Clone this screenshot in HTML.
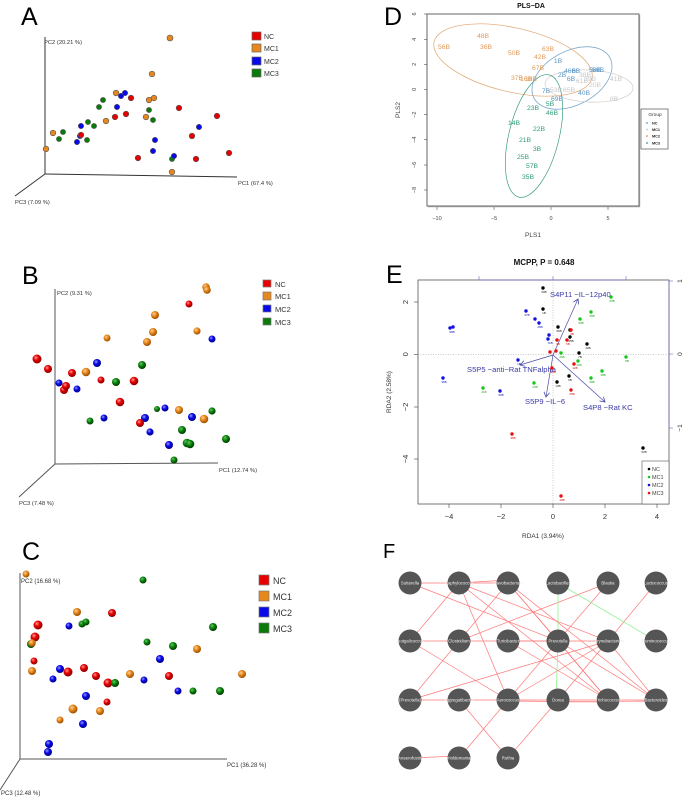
<!DOCTYPE html>
<html><head><meta charset="utf-8"><style>
html,body{margin:0;padding:0;background:#fff;}
svg{display:block;font-family:"Liberation Sans",Arial,sans-serif;}
</style></head><body>
<svg width="685" height="797" viewBox="0 0 685 797" xmlns="http://www.w3.org/2000/svg">
<defs>
<radialGradient id="gr" cx="38%" cy="35%" r="65%"><stop offset="0" stop-color="#ff9a9a"/><stop offset="0.45" stop-color="#e80000"/><stop offset="1" stop-color="#8a0000"/></radialGradient>
<radialGradient id="go" cx="38%" cy="35%" r="65%"><stop offset="0" stop-color="#ffd09a"/><stop offset="0.45" stop-color="#e8881c"/><stop offset="1" stop-color="#9a5000"/></radialGradient>
<radialGradient id="gb" cx="38%" cy="35%" r="65%"><stop offset="0" stop-color="#9a9aff"/><stop offset="0.45" stop-color="#0808e8"/><stop offset="1" stop-color="#00008a"/></radialGradient>
<radialGradient id="gg" cx="38%" cy="35%" r="65%"><stop offset="0" stop-color="#70c070"/><stop offset="0.45" stop-color="#0a880a"/><stop offset="1" stop-color="#003a00"/></radialGradient>
<marker id="ah" markerWidth="6" markerHeight="6" refX="5" refY="3" orient="auto" markerUnits="userSpaceOnUse"><path d="M0,0 L5,3 L0,6" fill="none" stroke="#4a4aa8" stroke-width="0.8"/></marker>
</defs>

<!-- ================= PANEL A ================= -->
<text x="21" y="25" font-size="25">A</text>
<g stroke="#333" stroke-width="1" fill="none">
<line x1="45" y1="37" x2="45" y2="174"/>
<line x1="45" y1="174" x2="237" y2="177"/>
<line x1="45" y1="174" x2="15" y2="196"/>
</g>
<g font-size="5.8" fill="#333">
<text x="44" y="44">PC2 (20.21 %)</text>
<text x="238" y="185">PC1 (67.4 %)</text>
<text x="15" y="204">PC3 (7.09 %)</text>
</g>
<g stroke="#666" stroke-width="0.7">
<rect x="252" y="32" width="9" height="8" fill="#e80000"/>
<rect x="252" y="44" width="9" height="8" fill="#e8881c"/>
<rect x="252" y="57" width="9" height="8" fill="#0808e8"/>
<rect x="252" y="69" width="9" height="8" fill="#0a7a0a"/>
</g>
<g font-size="7" fill="#333">
<text x="264" y="39">NC</text><text x="264" y="51">MC1</text><text x="264" y="64">MC2</text><text x="264" y="76">MC3</text>
</g>
<g stroke="#555" stroke-width="0.6">
<g fill="#e8881c">
<circle cx="170" cy="38" r="3"/><circle cx="152" cy="74" r="2.8"/><circle cx="116" cy="93" r="2.8"/>
<circle cx="149" cy="100" r="2.8"/><circle cx="154" cy="98" r="2.8"/><circle cx="146" cy="117" r="2.8"/>
<circle cx="106" cy="121" r="2.8"/><circle cx="53" cy="133" r="2.8"/><circle cx="46" cy="149" r="2.8"/>
<circle cx="172" cy="172" r="2.8"/>
</g>
<g fill="#0a7a0a">
<circle cx="103" cy="100" r="2.6"/><circle cx="99" cy="107" r="2.6"/><circle cx="149" cy="110" r="2.6"/>
<circle cx="153" cy="120" r="2.6"/><circle cx="88" cy="122" r="2.6"/><circle cx="94" cy="126" r="2.6"/>
<circle cx="63" cy="132" r="2.6"/><circle cx="59" cy="139" r="2.6"/><circle cx="87" cy="140" r="2.6"/>
<circle cx="172" cy="159" r="2.6"/>
</g>
<g fill="#0808e8">
<circle cx="121" cy="96" r="2.7"/><circle cx="125" cy="93" r="2.7"/><circle cx="117" cy="107" r="2.7"/>
<circle cx="81" cy="126" r="2.7"/><circle cx="199" cy="127" r="2.7"/><circle cx="80" cy="136" r="2.7"/>
<circle cx="77" cy="142" r="2.7"/><circle cx="155" cy="140" r="2.7"/><circle cx="153" cy="151" r="2.7"/>
<circle cx="174" cy="156" r="2.7"/>
</g>
<g fill="#e80000">
<circle cx="131" cy="98" r="2.8"/><circle cx="179" cy="108" r="2.8"/><circle cx="126" cy="114" r="2.8"/>
<circle cx="115" cy="117" r="2.8"/><circle cx="217" cy="116" r="2.8"/><circle cx="81" cy="135" r="2.8"/>
<circle cx="192" cy="136" r="2.8"/><circle cx="138" cy="158" r="2.8"/><circle cx="196" cy="159" r="2.8"/>
<circle cx="229" cy="153" r="2.8"/>
</g>
</g>

<!-- ================= PANEL B ================= -->
<text x="22" y="284" font-size="25">B</text>
<g stroke="#555" stroke-width="1" fill="none">
<line x1="55" y1="289" x2="55" y2="464"/>
<line x1="55" y1="464" x2="218" y2="463"/>
<line x1="55" y1="464" x2="19" y2="497"/>
</g>
<g font-size="5.8" fill="#333">
<text x="57" y="295">PC2 (9.31 %)</text>
<text x="219" y="472">PC1 (12.74 %)</text>
<text x="19" y="505">PC3 (7.48 %)</text>
</g>
<g stroke="#777" stroke-width="0.7">
<rect x="263" y="280" width="8" height="7" fill="#e80000"/>
<rect x="263" y="292" width="8" height="8" fill="#e8881c"/>
<rect x="263" y="305" width="8" height="7" fill="#0808e8"/>
<rect x="263" y="318" width="8" height="7" fill="#0a7a0a"/>
</g>
<g font-size="7.5" fill="#333">
<text x="275" y="287">NC</text><text x="275" y="299">MC1</text><text x="275" y="312">MC2</text><text x="275" y="325">MC3</text>
</g>
<g>
<circle cx="206" cy="287" r="3.8" fill="url(#go)"/><circle cx="207" cy="290" r="3.8" fill="url(#go)"/>
<circle cx="189" cy="304" r="3.5" fill="url(#gr)"/>
<circle cx="155" cy="315" r="4" fill="url(#go)"/>
<circle cx="153" cy="332" r="4" fill="url(#go)"/>
<circle cx="197" cy="331" r="3.6" fill="url(#go)"/>
<circle cx="212" cy="339" r="3.5" fill="url(#gb)"/>
<circle cx="107" cy="338" r="3.5" fill="url(#go)"/>
<circle cx="147" cy="342" r="4" fill="url(#go)"/>
<circle cx="37" cy="359" r="4.5" fill="url(#gr)"/>
<circle cx="48" cy="369" r="4" fill="url(#gr)"/>
<circle cx="97" cy="363" r="4" fill="url(#gb)"/>
<circle cx="142" cy="365" r="4" fill="url(#gg)"/>
<circle cx="72" cy="373" r="4" fill="url(#gr)"/>
<circle cx="86" cy="372" r="4.3" fill="url(#go)"/>
<circle cx="101" cy="380" r="3.5" fill="url(#gr)"/>
<circle cx="116" cy="382" r="4" fill="url(#gg)"/>
<circle cx="134" cy="381" r="4.3" fill="url(#gr)"/>
<circle cx="59" cy="383" r="3.5" fill="url(#gb)"/>
<circle cx="64" cy="390" r="4" fill="url(#gr)"/>
<circle cx="66" cy="386" r="4" fill="url(#gr)"/>
<circle cx="77" cy="389" r="3.5" fill="url(#gb)"/>
<circle cx="120" cy="402" r="4.3" fill="url(#gr)"/>
<circle cx="157" cy="409" r="3" fill="url(#gg)"/>
<circle cx="165" cy="408" r="3.5" fill="url(#gb)"/>
<circle cx="179" cy="410" r="4" fill="url(#go)"/>
<circle cx="212" cy="411" r="3.6" fill="url(#gg)"/>
<circle cx="192" cy="417" r="4" fill="url(#gb)"/>
<circle cx="204" cy="419" r="4.3" fill="url(#go)"/>
<circle cx="145" cy="418" r="4" fill="url(#gb)"/>
<circle cx="90" cy="421" r="3.5" fill="url(#gg)"/>
<circle cx="104" cy="418" r="3.5" fill="url(#gb)"/>
<circle cx="140" cy="423" r="4" fill="url(#gr)"/>
<circle cx="150" cy="432" r="3.6" fill="url(#gb)"/>
<circle cx="182" cy="430" r="4" fill="url(#gg)"/>
<circle cx="187" cy="443" r="4.3" fill="url(#gg)"/><circle cx="190" cy="444" r="4.3" fill="url(#gg)"/>
<circle cx="169" cy="445" r="4" fill="url(#gb)"/>
<circle cx="226" cy="439" r="4" fill="url(#gg)"/>
<circle cx="174" cy="460" r="3.5" fill="url(#gg)"/>
</g>

<!-- ================= PANEL C ================= -->
<text x="22" y="560" font-size="25">C</text>
<g stroke="#555" stroke-width="1" fill="none">
<line x1="20" y1="573" x2="20" y2="759"/>
<line x1="20" y1="759" x2="227" y2="759"/>
<line x1="20" y1="759" x2="0" y2="790"/>
</g>
<g font-size="6" fill="#333">
<text x="21" y="583">PC2 (16.68 %)</text>
<text x="227" y="767">PC1 (36.28 %)</text>
<text x="1" y="795">PC3 (12.48 %)</text>
</g>
<g stroke="#777" stroke-width="0.7">
<rect x="259" y="575" width="10" height="10" fill="#e80000"/>
<rect x="259" y="591" width="10" height="10" fill="#e8881c"/>
<rect x="259" y="607" width="10" height="10" fill="#0808e8"/>
<rect x="259" y="623" width="10" height="10" fill="#0a7a0a"/>
</g>
<g font-size="9" fill="#333">
<text x="273" y="584">NC</text><text x="273" y="600">MC1</text><text x="273" y="616">MC2</text><text x="273" y="632">MC3</text>
</g>
<g>
<circle cx="26" cy="574" r="3.5" fill="url(#go)"/>
<circle cx="143" cy="580" r="3.5" fill="url(#gg)"/>
<circle cx="77" cy="612" r="4" fill="url(#go)"/>
<circle cx="112" cy="613" r="4" fill="url(#gr)"/>
<circle cx="82" cy="624" r="3.5" fill="url(#gg)"/><circle cx="86" cy="622" r="3.5" fill="url(#gg)"/>
<circle cx="69" cy="626" r="3.5" fill="url(#gb)"/>
<circle cx="38" cy="625" r="4.5" fill="url(#gr)"/>
<circle cx="213" cy="627" r="4" fill="url(#gg)"/>
<circle cx="35" cy="637" r="4.5" fill="url(#gr)"/>
<circle cx="31" cy="644" r="4" fill="url(#gg)"/><circle cx="32" cy="643" r="3.8" fill="url(#go)"/>
<circle cx="147" cy="642" r="3.5" fill="url(#gg)"/>
<circle cx="173" cy="646" r="4" fill="url(#gg)"/>
<circle cx="197" cy="649" r="4" fill="url(#go)"/>
<circle cx="160" cy="659" r="4" fill="url(#gb)"/>
<circle cx="34" cy="661" r="3.5" fill="url(#gr)"/>
<circle cx="32" cy="671" r="4" fill="url(#go)"/>
<circle cx="60" cy="669" r="4" fill="url(#gb)"/>
<circle cx="68" cy="672" r="4.5" fill="url(#gr)"/>
<circle cx="84" cy="668" r="4" fill="url(#gr)"/>
<circle cx="53" cy="679" r="3.5" fill="url(#gb)"/>
<circle cx="96" cy="676" r="4" fill="url(#gr)"/>
<circle cx="130" cy="674" r="4" fill="url(#go)"/>
<circle cx="144" cy="680" r="3.5" fill="url(#gb)"/>
<circle cx="169" cy="676" r="4" fill="url(#gr)"/>
<circle cx="242" cy="674" r="4" fill="url(#go)"/>
<circle cx="108" cy="683" r="4.5" fill="url(#gr)"/>
<circle cx="115" cy="683" r="4" fill="url(#gg)"/>
<circle cx="178" cy="691" r="3.5" fill="url(#gb)"/>
<circle cx="193" cy="691" r="3.5" fill="url(#gg)"/>
<circle cx="220" cy="691" r="4" fill="url(#gg)"/>
<circle cx="86" cy="696" r="4" fill="url(#gb)"/>
<circle cx="107" cy="702" r="3.5" fill="url(#gr)"/>
<circle cx="73" cy="709" r="4.5" fill="url(#go)"/>
<circle cx="100" cy="711" r="4" fill="url(#go)"/>
<circle cx="60" cy="720" r="3.5" fill="url(#go)"/>
<circle cx="83" cy="724" r="4" fill="url(#gb)"/>
<circle cx="49" cy="744" r="4" fill="url(#gb)"/>
<circle cx="48" cy="752" r="4" fill="url(#gb)"/>
</g>

<!-- ================= PANEL D ================= -->
<text x="531" y="8" font-size="7" font-weight="bold" text-anchor="middle" fill="#111">PLS−DA</text>
<text x="384" y="25" font-size="25">D</text>
<rect x="427" y="14" width="212" height="192" fill="none" stroke="#666" stroke-width="1"/>
<line x1="639.8" y1="15" x2="639.8" y2="207" stroke="#aaa" stroke-width="0.8"/>
<line x1="428" y1="206.8" x2="640" y2="206.8" stroke="#aaa" stroke-width="0.8"/>
<g stroke="#555" stroke-width="0.6">
<line x1="437" y1="207" x2="437" y2="210"/><line x1="494" y1="207" x2="494" y2="210"/>
<line x1="551" y1="207" x2="551" y2="210"/><line x1="608" y1="207" x2="608" y2="210"/>
<line x1="427" y1="14" x2="424" y2="14"/><line x1="427" y1="39.3" x2="424" y2="39.3"/>
<line x1="427" y1="64.3" x2="424" y2="64.3"/><line x1="427" y1="89.3" x2="424" y2="89.3"/>
<line x1="427" y1="114.7" x2="424" y2="114.7"/><line x1="427" y1="139.7" x2="424" y2="139.7"/>
<line x1="427" y1="165" x2="424" y2="165"/><line x1="427" y1="190" x2="424" y2="190"/>
</g>
<g font-size="5.5" fill="#444" text-anchor="middle">
<text x="437" y="220">−10</text><text x="494" y="220">−5</text><text x="551" y="220">0</text><text x="608" y="220">5</text>
<text transform="translate(416,14) rotate(-90)">6</text>
<text transform="translate(416,39.3) rotate(-90)">4</text>
<text transform="translate(416,64.3) rotate(-90)">2</text>
<text transform="translate(416,89.3) rotate(-90)">0</text>
<text transform="translate(416,114.7) rotate(-90)">−2</text>
<text transform="translate(416,139.7) rotate(-90)">−4</text>
<text transform="translate(416,165) rotate(-90)">−6</text>
<text transform="translate(416,190) rotate(-90)">−8</text>
</g>
<text x="533" y="237" font-size="6.5" fill="#444" text-anchor="middle">PLS1</text>
<text transform="translate(400,110) rotate(-90)" font-size="6.5" fill="#444" text-anchor="middle">PLS2</text>
<g fill="none" stroke-width="0.7">
<ellipse cx="513" cy="60" rx="81" ry="32" transform="rotate(13 513 60)" stroke="#e0a46a"/>
<ellipse cx="572" cy="78" rx="43" ry="27" transform="rotate(-28 572 78)" stroke="#6a9ec4"/>
<ellipse cx="589" cy="86" rx="44" ry="16" transform="rotate(3 589 86)" stroke="#cfcfcf"/>
<ellipse cx="534" cy="136" rx="25" ry="63" transform="rotate(14 534 136)" stroke="#3a9e80"/>
</g>
<g font-size="6.8" text-anchor="middle" dominant-baseline="middle">
<g fill="#e09a58">
<text x="483" y="36">48B</text><text x="444" y="47">56B</text><text x="486" y="47">36B</text>
<text x="514" y="53">50B</text><text x="548" y="49">63B</text><text x="540" y="57">42B</text>
<text x="538" y="68">67B</text><text x="517" y="78">37B</text><text x="526" y="79">16B</text><text x="531" y="79">18B</text>
</g>
<g fill="#c8c8c8">
<text x="616" y="79">41B</text><text x="585" y="75">38B</text><text x="582" y="81">61B</text>
<text x="595" y="85">20B</text><text x="614" y="99">8B</text><text x="556" y="90">53B</text>
<text x="569" y="90">65B</text><text x="590" y="79">39B</text>
</g>
<g fill="#5a96c6">
<text x="558" y="61">1B</text><text x="570" y="71">46B</text><text x="576" y="71">6B</text>
<text x="562" y="75">2B</text><text x="571" y="79">6B</text><text x="546" y="91">7B</text>
<text x="557" y="99">69B</text><text x="584" y="93">40B</text><text x="595" y="70">58B</text><text x="598" y="70">59B</text>
</g>
<g fill="#2e9e7c">
<text x="533" y="108">23B</text><text x="550" y="104">5B</text><text x="552" y="113">46B</text>
<text x="514" y="123">14B</text><text x="539" y="129">22B</text><text x="525" y="140">21B</text>
<text x="537" y="149">3B</text><text x="523" y="157">25B</text><text x="532" y="166">57B</text>
<text x="528" y="177">35B</text>
</g>
</g>
<rect x="641" y="109" width="27" height="40" fill="#fff" stroke="#333" stroke-width="0.6"/>
<text x="655" y="116" font-size="4.8" fill="#333" text-anchor="middle">Group</text>
<g font-size="3.8" font-weight="bold" fill="#222">
<circle cx="647" cy="123" r="0.9" fill="#5a96c6"/><text x="652" y="124.5">NC</text>
<circle cx="647" cy="129.5" r="0.9" fill="#c8c8c8"/><text x="652" y="131">MC1</text>
<circle cx="647" cy="136" r="0.9" fill="#e8883c"/><text x="652" y="137.5">MC2</text>
<circle cx="647" cy="143" r="0.9" fill="#2e9e7c"/><text x="652" y="144.5">MC3</text>
</g>

<!-- ================= PANEL E ================= -->
<text x="544" y="265" font-size="8" font-weight="bold" text-anchor="middle" fill="#111">MCPP, P = 0.648</text>
<text x="386" y="283" font-size="25">E</text>
<rect x="418" y="280" width="251" height="224" fill="none" stroke="#555" stroke-width="0.8"/>
<line x1="479" y1="280" x2="626" y2="280" stroke="#6a6ab8" stroke-width="0.8"/>
<line x1="669" y1="280" x2="669" y2="428" stroke="#6a6ab8" stroke-width="0.8"/>
<g stroke="#6a6ab8" stroke-width="0.6">
<line x1="479" y1="280" x2="479" y2="276"/><line x1="553" y1="280" x2="553" y2="276"/><line x1="626" y1="280" x2="626" y2="276"/>
<line x1="669" y1="281" x2="673" y2="281"/><line x1="669" y1="354" x2="673" y2="354"/><line x1="669" y1="428" x2="673" y2="428"/>
</g>
<g font-size="6.5" fill="#333" text-anchor="middle">
<text transform="translate(682,281) rotate(-90)">1</text>
<text transform="translate(682,354) rotate(-90)">0</text>
<text transform="translate(682,428) rotate(-90)">−1</text>
</g>
<g stroke="#aaa" stroke-width="0.6" stroke-dasharray="1,1.5">
<line x1="418" y1="354.3" x2="669" y2="354.3"/>
<line x1="553" y1="280" x2="553" y2="504"/>
</g>
<g stroke="#444" stroke-width="0.6">
<line x1="449" y1="504" x2="449" y2="508"/><line x1="501" y1="504" x2="501" y2="508"/>
<line x1="553" y1="504" x2="553" y2="508"/><line x1="605" y1="504" x2="605" y2="508"/>
<line x1="657" y1="504" x2="657" y2="508"/>
<line x1="418" y1="302" x2="414" y2="302"/><line x1="418" y1="354.3" x2="414" y2="354.3"/>
<line x1="418" y1="407" x2="414" y2="407"/><line x1="418" y1="459" x2="414" y2="459"/>
</g>
<g font-size="7.5" fill="#333" text-anchor="middle">
<text x="449" y="519">−4</text><text x="501" y="519">−2</text><text x="553" y="519">0</text>
<text x="605" y="519">2</text><text x="657" y="519">4</text>
<text transform="translate(408,302) rotate(-90)">2</text>
<text transform="translate(408,354.3) rotate(-90)">0</text>
<text transform="translate(408,407) rotate(-90)">−2</text>
<text transform="translate(408,459) rotate(-90)">−4</text>
</g>
<text transform="translate(391,392) rotate(-90)" font-size="6.5" fill="#333" text-anchor="middle">RDA2 (2.58%)</text>
<text x="543" y="538" font-size="6.5" fill="#333" text-anchor="middle">RDA1 (3.94%)</text>
<g stroke="#4a4aa8" stroke-width="0.7" marker-end="url(#ah)">
<line x1="553" y1="355" x2="578" y2="299"/>
<line x1="553" y1="355" x2="520" y2="365"/>
<line x1="553" y1="355" x2="546" y2="397"/>
<line x1="553" y1="355" x2="605" y2="402"/>
</g>
<g font-size="7.6" fill="#3a3aa8">
<text x="550" y="297">S4P11 −IL−12p40</text>
<text x="467" y="372">S5P5 −anti−Rat TNFalpha</text>
<text x="525" y="404">S5P9 −IL−6</text>
<text x="583" y="410">S4P8 −Rat KC</text>
</g>
<g>
<g fill="#000">
<circle cx="543" cy="288" r="1.7"/><circle cx="543" cy="309" r="1.7"/><circle cx="558" cy="327" r="1.7"/>
<circle cx="570" cy="330" r="1.7"/><circle cx="570" cy="337" r="1.7"/><circle cx="587" cy="344" r="1.7"/>
<circle cx="579" cy="353" r="1.7"/><circle cx="557" cy="382" r="1.7"/><circle cx="569" cy="376" r="1.7"/>
<circle cx="643" cy="448" r="1.7"/>
</g>
<g fill="#18c818">
<circle cx="611" cy="297" r="1.7"/><circle cx="591" cy="312" r="1.7"/><circle cx="580" cy="319" r="1.7"/>
<circle cx="561" cy="353" r="1.7"/><circle cx="626" cy="357" r="1.7"/><circle cx="578" cy="361" r="1.7"/>
<circle cx="602" cy="371" r="1.7"/><circle cx="591" cy="378" r="1.7"/><circle cx="534" cy="383" r="1.7"/>
<circle cx="483" cy="388" r="1.7"/>
</g>
<g fill="#1010e0">
<circle cx="526" cy="311" r="1.7"/><circle cx="535" cy="319" r="1.7"/><circle cx="539" cy="323" r="1.7"/>
<circle cx="450" cy="328" r="1.7"/><circle cx="453" cy="327" r="1.7"/><circle cx="549" cy="335" r="1.7"/>
<circle cx="548" cy="339" r="1.7"/><circle cx="518" cy="360" r="1.7"/><circle cx="443" cy="378" r="1.7"/>
<circle cx="500" cy="391" r="1.7"/>
</g>
<g fill="#e81010">
<circle cx="571" cy="330" r="1.7"/><circle cx="557" cy="340" r="1.7"/><circle cx="567" cy="340" r="1.7"/>
<circle cx="550" cy="352" r="1.7"/><circle cx="556" cy="351" r="1.7"/><circle cx="552" cy="368" r="1.7"/>
<circle cx="574" cy="364" r="1.7"/><circle cx="571" cy="390" r="1.7"/><circle cx="512" cy="434" r="1.7"/>
<circle cx="561" cy="496" r="1.7"/>
</g>
<g font-size="3" text-anchor="middle">
<g fill="#222"><text x="544" y="293">69B</text><text x="544" y="314">1B</text><text x="559" y="332">66B</text><text x="571" y="342">45B</text><text x="588" y="349">40B</text><text x="580" y="358">7B</text><text x="558" y="387">13B</text><text x="570" y="381">6B</text><text x="644" y="453">52B</text></g>
<g fill="#18a818"><text x="612" y="302">63B</text><text x="592" y="317">65B</text><text x="581" y="324">53B</text><text x="562" y="358">20B</text><text x="627" y="362">8B</text><text x="579" y="366">32B</text><text x="603" y="376">38B</text><text x="592" y="383">39B</text><text x="535" y="388">20B</text><text x="484" y="393">41B</text></g>
<g fill="#1010c0"><text x="527" y="316">37B</text><text x="540" y="328">26B</text><text x="452" y="333">58B</text><text x="550" y="344">71B</text><text x="519" y="365">1B</text><text x="444" y="383">36B</text><text x="501" y="396">50B</text></g>
<g fill="#c81010"><text x="572" y="335">4B</text><text x="558" y="345">3B</text><text x="568" y="345">5B</text><text x="553" y="373">33B</text><text x="575" y="369">12B</text><text x="572" y="395">25B</text><text x="513" y="439">35B</text><text x="562" y="501">40B</text></g>
</g>
</g>
<rect x="642" y="461" width="27" height="43" fill="#fff" stroke="#555" stroke-width="0.6"/>
<g font-size="5.5" fill="#444">
<circle cx="649" cy="469" r="1.3" fill="#000"/><text x="652" y="471">NC</text>
<circle cx="649" cy="477" r="1.3" fill="#18c818"/><text x="652" y="479">MC1</text>
<circle cx="649" cy="485" r="1.3" fill="#1010e0"/><text x="652" y="487">MC2</text>
<circle cx="649" cy="493" r="1.3" fill="#e81010"/><text x="652" y="495">MC3</text>
</g>

<!-- ================= PANEL F ================= -->
<text x="383" y="558" font-size="20">F</text>
<g stroke="#ff7878" stroke-width="0.7" fill="none">
<line x1="410" y1="583" x2="508" y2="583"/>
<line x1="410" y1="583" x2="558" y2="641"/>
<line x1="459" y1="583" x2="508" y2="580"/>
<line x1="459" y1="583" x2="410" y2="641"/>
<line x1="459" y1="583" x2="508" y2="700"/>
<line x1="459" y1="583" x2="608" y2="641"/>
<line x1="459" y1="583" x2="608" y2="700"/>
<line x1="508" y1="583" x2="459" y2="641"/>
<line x1="508" y1="583" x2="558" y2="641"/>
<line x1="508" y1="583" x2="608" y2="700"/>
<line x1="508" y1="583" x2="656" y2="700"/>
<line x1="608" y1="583" x2="459" y2="641"/>
<line x1="608" y1="583" x2="558" y2="641"/>
<line x1="656" y1="583" x2="608" y2="641"/>
<line x1="410" y1="641" x2="558" y2="641"/>
<line x1="410" y1="641" x2="508" y2="700"/>
<line x1="459" y1="641" x2="410" y2="700"/>
<line x1="508" y1="641" x2="608" y2="641"/>
<line x1="508" y1="641" x2="608" y2="700"/>
<line x1="558" y1="641" x2="508" y2="700"/>
<line x1="558" y1="641" x2="608" y2="700"/>
<line x1="558" y1="641" x2="656" y2="700"/>
<line x1="608" y1="641" x2="410" y2="700"/>
<line x1="608" y1="641" x2="508" y2="700"/>
<line x1="608" y1="641" x2="558" y2="700"/>
<line x1="608" y1="641" x2="656" y2="700"/>
<line x1="410" y1="700" x2="459" y2="700"/>
<line x1="459" y1="700" x2="508" y2="700"/>
<line x1="508" y1="700" x2="558" y2="700"/>
<line x1="508" y1="701" x2="608" y2="702"/>
<line x1="558" y1="700" x2="608" y2="700"/>
<line x1="558" y1="702" x2="656" y2="701"/>
<line x1="608" y1="700" x2="656" y2="700"/>
<line x1="459" y1="700" x2="508" y2="758"/>
<line x1="508" y1="700" x2="459" y2="758"/>
<line x1="558" y1="700" x2="508" y2="758"/>
<line x1="410" y1="758" x2="459" y2="756"/>
</g>
<g stroke="#90f090" stroke-width="0.8">
<line x1="558" y1="583" x2="558" y2="641"/>
<line x1="558" y1="583" x2="656" y2="641"/>
<line x1="558" y1="641" x2="556" y2="700"/>
</g>
<g fill="#555">
<circle cx="410" cy="583" r="11.5"/><circle cx="459" cy="583" r="11.5"/><circle cx="508" cy="583" r="11.5"/>
<circle cx="558" cy="583" r="11.5"/><circle cx="608" cy="583" r="11.5"/><circle cx="656" cy="583" r="11.5"/>
<circle cx="410" cy="641" r="11.5"/><circle cx="459" cy="641" r="11.5"/><circle cx="508" cy="641" r="11.5"/>
<circle cx="558" cy="641" r="11.5"/><circle cx="608" cy="641" r="11.5"/><circle cx="656" cy="641" r="11.5"/>
<circle cx="410" cy="700" r="11.5"/><circle cx="459" cy="700" r="11.5"/><circle cx="508" cy="700" r="11.5"/>
<circle cx="558" cy="700" r="11.5"/><circle cx="608" cy="700" r="11.5"/><circle cx="656" cy="700" r="11.5"/>
<circle cx="410" cy="758" r="11.5"/><circle cx="459" cy="758" r="11.5"/><circle cx="508" cy="758" r="11.5"/>
</g>
<g font-size="4.3" fill="#eee" text-anchor="middle">
<text x="410" y="584.5">Sutterella</text><text x="459" y="584.5">Staphylococcus</text><text x="508" y="584.5">Flavobacterium</text>
<text x="558" y="584.5">Lactobacillus</text><text x="608" y="584.5">Blautia</text><text x="656" y="584.5">Lactococcus</text>
<text x="410" y="642.5">Jeotgalicoccus</text><text x="459" y="642.5">Clostridium</text><text x="508" y="642.5">Turicibacter</text>
<text x="558" y="642.5">Prevotella</text><text x="608" y="642.5">Corynebacterium</text><text x="656" y="642.5">[Ruminococcus]</text>
<text x="410" y="701.5">[Prevotella]</text><text x="459" y="701.5">Aggregatibacter</text><text x="508" y="701.5">Aerococcus</text>
<text x="558" y="701.5">Dorea</text><text x="608" y="701.5">Trichococcus</text><text x="656" y="701.5">Bacteroides</text>
<text x="410" y="759.5">Anaerofustis</text><text x="459" y="759.5">Holdemania</text><text x="508" y="759.5">Rothia</text>
</g>
</svg>
</body></html>
